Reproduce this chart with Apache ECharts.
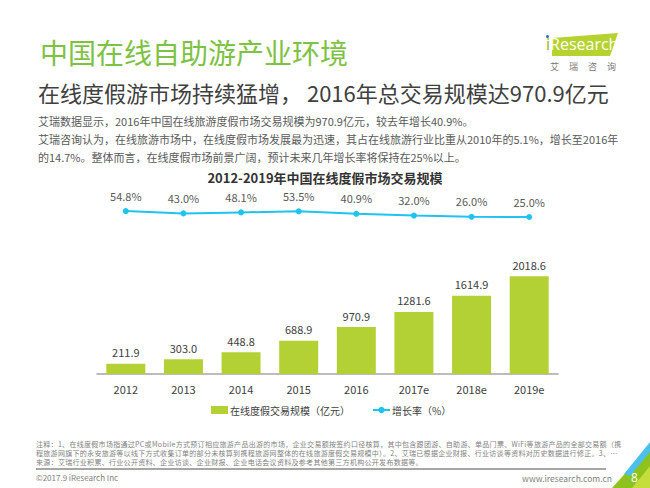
<!DOCTYPE html>
<html><head><meta charset="utf-8">
<script src="https://cdn.jsdelivr.net/npm/echarts@6/dist/echarts.min.js"></script>
<style>
html,body{margin:0;padding:0;background:#fff;}
#wrap{position:relative;width:650px;height:488px;overflow:hidden;font-family:"Noto Sans CJK SC","Noto Sans",sans-serif;}
#chart{position:absolute;left:0;top:0;width:650px;height:488px;}
.t{position:absolute;white-space:nowrap;line-height:1;}
</style></head>
<body><div id="wrap">
<div id="chart"></div>
<div class="t" style="left:40px;top:38px;font-size:28px;color:#7dc242;">中国在线自助游产业环境</div>
<div class="t" style="left:38px;top:81px;font-size:22px;color:#404040;">在线度假游市场持续猛增， 2016年总交易规模达970.9亿元</div>
<div class="t" style="left:38px;top:112px;font-size:11px;color:#595959;line-height:18px;">艾瑞数据显示，2016年中国在线旅游度假市场交易规模为970.9亿元，较去年增长40.9%。<br>艾瑞咨询认为，在线旅游市场中，在线度假市场发展最为迅速，其占在线旅游行业比重从2010年的5.1%，增长至2016年<br>的14.7%。整体而言，在线度假市场前景广阔，预计未来几年增长率将保持在25%以上。</div>
<div style="position:absolute;left:552px;top:33px;width:66px;height:23px;background:#b5d22e;clip-path:polygon(0 22%,100% 0,88% 100%,0 100%);"></div>
<div class="t" style="left:546px;top:36px;font-size:16px;font-family:'Open Sans',sans-serif;color:#fff;"><span style="color:#8cb320;">i</span>Research</div>
<div style="position:absolute;left:546px;top:35px;width:3px;height:3px;border-radius:50%;background:#2a6cb5;"></div>
<div class="t" style="left:550px;top:62px;font-size:9px;color:#777;letter-spacing:10px;">艾瑞咨询</div>
<div class="t" style="left:36px;top:440px;font-size:7px;letter-spacing:0.3px;color:#7f7f7f;line-height:9px;">注释：1、在线度假市场指通过PC或Mobile方式预订相应旅游产品出游的市场，企业交易额按签约口径核算，其中包含跟团游、自助游、单品门票、WiFi等旅游产品的全部交易额（携<br>程旅游网旗下的永安旅游等以线下方式收集订单的部分未核算到携程旅游网整体的在线旅游度假交易规模中）。2、艾瑞已根据企业财报、行业访谈等资料对历史数据进行修正。3、…<br>来源：艾瑞行业积累、行业公开资料、企业访谈、企业财报、企业电话会议资料及参考其他第三方机构公开发布数据等。</div>
<div style="position:absolute;left:36px;top:468px;width:570px;height:2px;background:#a6a6a6;"></div>
<div class="t" style="left:36px;top:474px;font-size:8px;color:#7f7f7f;">©2017.9 iResearch Inc</div>
<div class="t" style="right:38px;top:474px;font-size:8.5px;color:#7f7f7f;">www.iresearch.com.cn</div>
<svg style="position:absolute;left:0;top:0" width="650" height="488">
<polygon points="612,488 650,446 650,488" fill="#8dc21f"/>
<polygon points="632,488 650,466 650,488" fill="#c6de3c"/>
<polygon points="624,474 650,442 650,452 630,476" fill="#4cc0ec"/>
</svg>
<div class="t" style="left:631px;top:472px;font-size:12px;color:#fff;font-family:'Open Sans',sans-serif;">8</div>
</div>
<script>
var categories = ['2012','2013','2014','2015','2016','2017e','2018e','2019e'];
var scaleValues = [211.9,303.0,448.8,688.9,970.9,1281.6,1614.9,2018.6];
var growthValues = [54.8,43.0,48.1,53.5,40.9,32.0,26.0,25.0];
var barName = '在线度假交易规模（亿元）';
var lineName = '增长率（%）';
var chartTitle = '2012-2019年中国在线度假市场交易规模';

var chart = echarts.init(document.getElementById('chart'), null, {renderer:'svg'});
var font = '"Noto Sans CJK SC","Noto Sans",sans-serif';
chart.setOption({
  animation:false,
  textStyle:{fontFamily:font},
  title:{text:chartTitle,left:'center',top:171,padding:0,
    textStyle:{fontSize:13,fontWeight:'bold',color:'#333',fontFamily:font}},
  legend:{left:211,top:405,padding:0,itemWidth:17,itemHeight:8,itemGap:22,
    textStyle:{fontSize:10,color:'#404040',padding:[0,0,0,-3]},
    data:[{name:barName,icon:'rect'},{name:lineName}]},
  grid:[
    {left:97,right:92,top:253,height:121},
    {left:97,right:92,top:202,height:20}
  ],
  xAxis:[
    {type:'category',data:categories,gridIndex:0,
      axisLine:{lineStyle:{color:'#a6a6a6',width:1.5}},axisTick:{show:false},
      axisLabel:{fontSize:11,color:'#404040',margin:9}},
    {type:'category',data:categories,gridIndex:1,show:false}
  ],
  yAxis:[
    {type:'value',gridIndex:0,min:0,max:2500,show:false},
    {type:'value',gridIndex:1,min:0,max:100,show:false}
  ],
  series:[
    {name:barName,type:'bar',data:scaleValues,barWidth:39,xAxisIndex:0,yAxisIndex:0,
      itemStyle:{color:'#b3d135'},
      label:{show:true,position:'top',distance:6,fontSize:11,color:'#404040',
        formatter:function(p){return p.value.toFixed(1);}}},
    {name:lineName,type:'line',data:growthValues,xAxisIndex:1,yAxisIndex:1,
      symbol:'circle',symbolSize:6,
      lineStyle:{color:'#1fc3ef',width:2},itemStyle:{color:'#1fc3ef'},
      label:{show:true,position:'top',distance:7,fontSize:11,color:'#595959',
        formatter:function(p){return p.value.toFixed(1)+'%';}}}
  ]
});
</script>
</body></html>
